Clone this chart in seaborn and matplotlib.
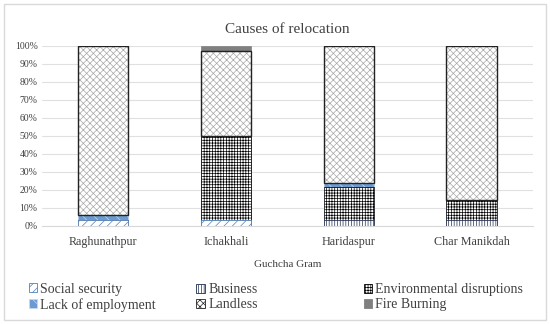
import numpy as np
import pandas as pd
import matplotlib.pyplot as plt
import matplotlib.patches as mpatches
import seaborn as sns

villages = ['Raghunathpur', 'Ichakhali', 'Haridaspur', 'Char Manikdah']
causes = ['Social security', 'Business', 'Environmental disruptions',
          'Lack of employment', 'Landless', 'Fire Burning']
social_security = [3, 3, 0, 0]
business = [0, 0, 3, 3]
env_disruptions = [0, 47, 18.5, 11.5]
lack_employment = [3, 0, 2.5, 0]
landless = [94, 47, 76, 85.5]
fire_burning = [0, 3, 0, 0]

# style per cause: (face, edge/hatch colour, hatch)
styles = {
    'Social security': ('white', '#4f81bd', '////'),
    'Business': ('white', '#1f2d50', '||||||'),
    'Environmental disruptions': ('white', 'black', '++++++'),
    'Lack of employment': ('#6d9bd1', '#c6d9f0', '\\\\\\'),
    'Landless': ('white', '#a8a8a8', 'xxxxx'),
    'Fire Burning': ('#808080', '#808080', ''),
}

sns.set_style('white')
plt.rcParams['font.family'] = ['Liberation Serif', 'DejaVu Serif']
plt.rcParams['hatch.linewidth'] = 0.5

values = [social_security, business, env_disruptions, lack_employment, landless, fire_burning]
df = pd.DataFrame(dict(zip(causes, values)), index=villages)
cum = df.cumsum(axis=1)

fig = plt.figure(figsize=(5.5, 3.24), dpi=100)
fig.patches.append(mpatches.Rectangle((0.008, 0.012), 0.984, 0.976, transform=fig.transFigure,
                                      fill=False, edgecolor='#d9d9d9', linewidth=1))
ax = fig.add_axes([0.076, 0.303, 0.893, 0.556])

# draw tallest cumulative first, lower layers cover it
for cause in reversed(causes):
    face, edge, hatch = styles[cause]
    d = pd.DataFrame({'village': villages, 'val': cum[cause].values})
    n_before = len(ax.patches)
    sns.barplot(data=d, x='village', y='val', ax=ax, width=0.41,
                color=face, edgecolor=edge, linewidth=0.5, hatch=hatch)
    for p in ax.patches[n_before:]:
        p.set_facecolor(face)

# dark outline around landless segment
for i, v in enumerate(villages):
    lo = cum['Lack of employment'].iloc[i]
    hi = cum['Landless'].iloc[i]
    ax.add_patch(mpatches.Rectangle((i - 0.205, lo), 0.41, hi - lo, fill=False,
                                    edgecolor='#222222', linewidth=1.0, zorder=5))

ax.set_ylim(0, 100)
ax.set_xlim(-0.5, 3.5)
ax.set_yticks(np.arange(0, 101, 10))
ax.set_yticklabels([f'{t}%' for t in range(0, 101, 10)], fontsize=7, color='#404040')
ax.tick_params(axis='x', labelsize=8.7, colors='#404040', length=0, pad=7)
ax.tick_params(axis='y', length=0, pad=3)
ax.yaxis.grid(True, color='#e0e0e0', linewidth=0.8)
ax.set_axisbelow(True)
for s in ['top', 'right', 'left']:
    ax.spines[s].set_visible(False)
ax.spines['bottom'].set_color('#d9d9d9')
ax.set_xlabel('Guchcha Gram', fontsize=8, color='#404040', labelpad=9)
ax.set_ylabel('')
ax.set_title('Causes of relocation', fontsize=11, color='#404040', pad=9)

handles = {}
for cause in causes:
    face, edge, hatch = styles[cause]
    handles[cause] = mpatches.Patch(facecolor=face,
                                    edgecolor=edge if cause != 'Landless' else '#222222',
                                    hatch=hatch, linewidth=0.6, label=cause)
legend_cols = [['Social security', 'Lack of employment'],
               ['Business', 'Landless'],
               ['Environmental disruptions', 'Fire Burning']]
col_x = [0.052, 0.357, 0.661]
for xpos, col in zip(col_x, legend_cols):
    leg = fig.legend(handles=[handles[c] for c in col], loc='center left',
                     bbox_to_anchor=(xpos, 0.083), frameon=False, fontsize=10,
                     handlelength=0.6, handleheight=0.6, handletextpad=0.25,
                     labelspacing=0.15, labelcolor='#404040', borderaxespad=0,
                     borderpad=0)

fig.savefig('out.png', dpi=100)
